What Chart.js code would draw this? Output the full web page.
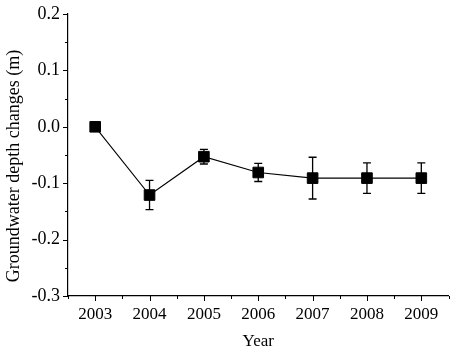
<!DOCTYPE html>
<html>
<head>
<meta charset="utf-8">
<script src="https://cdn.jsdelivr.net/npm/chart.js@4"></script>
<style>
  html, body { margin: 0; padding: 0; background: #fff; }
  #wrap { width: 457px; height: 352px; }
</style>
</head>
<body>
<div id="wrap"><canvas id="depthChart"></canvas></div>
<script>
// data
const years = ['2003', '2004', '2005', '2006', '2007', '2008', '2009'];
const depthChange = [0, -0.121, -0.053, -0.081, -0.091, -0.091, -0.091];
const depthError = [0, 0.026, 0.013, 0.016, 0.037, 0.027, 0.027];
const yTitle = 'Groundwater depth changes (m)';

const serif = "'Liberation Serif', 'Times New Roman', serif";

// error bars + axis ticks (major/minor), drawn through the chart scales
const errorBarsPlugin = {
  id: 'errorBars',
  beforeDatasetsDraw(chart) {
    const ctx = chart.ctx;
    const x = chart.scales.x;
    const y = chart.scales.y;
    ctx.save();
    ctx.strokeStyle = '#000';
    ctx.lineWidth = 1.3;
    depthChange.forEach((v, i) => {
      const err = depthError[i];
      if (!err) return;
      const px = x.getPixelForValue(i);
      const top = y.getPixelForValue(v + err);
      const bot = y.getPixelForValue(v - err);
      ctx.beginPath();
      ctx.moveTo(px, top); ctx.lineTo(px, bot);
      ctx.moveTo(px - 4, top); ctx.lineTo(px + 4, top);
      ctx.moveTo(px - 4, bot); ctx.lineTo(px + 4, bot);
      ctx.stroke();
    });
    ctx.restore();
  },
  afterDraw(chart) {
    const ctx = chart.ctx;
    const x = chart.scales.x;
    const y = chart.scales.y;
    const area = chart.chartArea;
    ctx.save();
    ctx.strokeStyle = '#000';
    ctx.lineWidth = 1;
    ctx.beginPath();
    // y ticks every 0.05, major at 0.1
    for (let k = -6; k <= 4; k++) {
      const py = Math.round(y.getPixelForValue(k * 0.05)) + 0.5;
      const len = k % 2 === 0 ? 5 : 3;
      ctx.moveTo(area.left, py); ctx.lineTo(area.left - len, py);
    }
    // x ticks at each year, minor halfway between
    for (let k = -0.5; k <= years.length - 0.5; k += 0.5) {
      const px = Math.round(x.getPixelForValue(k)) + 0.5;
      const len = Number.isInteger(k) ? 5 : 3;
      ctx.moveTo(px, area.bottom); ctx.lineTo(px, area.bottom + len);
    }
    ctx.stroke();

    // y axis title, sits a bit below the plot centre like the original
    ctx.fillStyle = '#000';
    ctx.font = '18px ' + serif;
    ctx.textAlign = 'center';
    ctx.textBaseline = 'middle';
    ctx.translate(14, 166);
    ctx.rotate(-Math.PI / 2);
    ctx.fillText(yTitle, 0, 0);
    ctx.restore();
  }
};

const ctx = document.getElementById('depthChart');
new Chart(ctx, {
  type: 'line',
  data: {
    labels: years,
    datasets: [{
      data: depthChange,
      borderColor: '#000',
      borderWidth: 1.1,
      backgroundColor: '#000',
      pointStyle: 'rect',
      pointRadius: 7.5,
      pointBorderWidth: 1,
      pointBorderColor: '#000',
      pointBackgroundColor: '#000',
      tension: 0
    }]
  },
  options: {
    responsive: true,
    maintainAspectRatio: false,
    animation: false,
    events: [],
    layout: { padding: { top: 14, right: 7, left: 0, bottom: 0 } },
    plugins: {
      legend: { display: false },
      tooltip: { enabled: false }
    },
    scales: {
      x: {
        type: 'category',
        offset: true,
        grid: { display: false, drawTicks: false },
        border: { display: true, color: '#000', width: 1.2 },
        ticks: {
          color: '#000',
          padding: 8,
          maxRotation: 0,
          font: { family: serif, size: 17 }
        },
        title: {
          display: true,
          text: 'Year',
          color: '#000',
          padding: { top: 2, bottom: 0 },
          font: { family: serif, size: 17 }
        },
        afterFit(scale) {
          scale.height = 56;
          scale.paddingLeft = 0;
          scale.paddingRight = 0;
        }
      },
      y: {
        min: -0.3,
        max: 0.2,
        grid: { display: false, drawTicks: false },
        border: { display: true, color: '#000', width: 1.2 },
        ticks: {
          stepSize: 0.1,
          color: '#000',
          padding: 8,
          font: { family: serif, size: 18 },
          callback: (v) => (Math.abs(v) < 1e-9 ? 0 : v).toFixed(1)
        },
        afterFit(scale) {
          scale.width = 68;
          scale.paddingTop = 0;
          scale.paddingBottom = 0;
        }
      }
    }
  },
  plugins: [errorBarsPlugin]
});
</script>
</body>
</html>
